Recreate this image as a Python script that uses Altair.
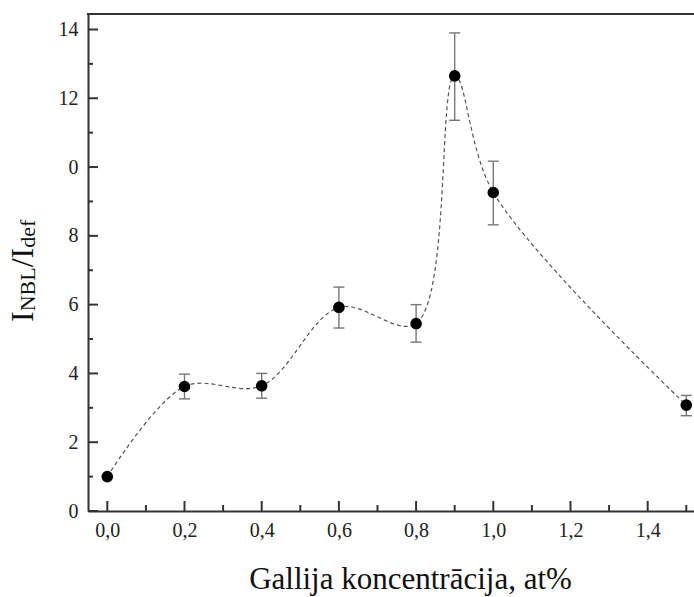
import altair as alt
import pandas as pd

# Gallium concentration (at%) and the NBL/def intensity ratio with error limits
conc = [0.0, 0.2, 0.4, 0.6, 0.8, 0.9, 1.0, 1.5]
ratio = [1.0, 3.62, 3.64, 5.92, 5.45, 12.65, 9.26, 3.08]
err_lo = [1.0, 3.26, 3.28, 5.32, 4.91, 11.36, 8.32, 2.77]
err_hi = [1.0, 3.98, 4.00, 6.51, 6.00, 13.90, 10.17, 3.36]

x_major = [0.0, 0.2, 0.4, 0.6, 0.8, 1.0, 1.2, 1.4]
x_minor = [0.1, 0.3, 0.5, 0.7, 0.9, 1.1, 1.3, 1.5]
y_major = [0, 2, 4, 6, 8, 10, 12, 14]
y_minor = [1, 3, 5, 7, 9, 11, 13]

x_title = "Gallija koncentrācija, at%"

df = pd.DataFrame({"c": conc, "r": ratio, "lo": err_lo, "hi": err_hi})
one = pd.DataFrame({"k": [0]})

W, H = 606, 497
FONT = "Liberation Serif"
AX = "#333333"

xs = alt.Scale(domain=[-0.05, 1.52], nice=False, zero=False)
ys = alt.Scale(domain=[0, 14.45], nice=False, zero=False)

# shared axes (ticks are drawn separately, pointing inward)
x_axis = alt.Axis(
    orient="bottom", values=x_major, ticks=False, grid=False,
    domainColor=AX, domainWidth=2,
    labelExpr="replace(format(datum.value, '.1f'), '.', ',')",
    labelFont=FONT, labelFontSize=20, labelColor="#222222", labelPadding=9,
    title=x_title, titleFont=FONT, titleFontSize=31,
    titleFontWeight="normal", titleColor="#111111",
    titleX=322, titleY=77, titleBaseline="alphabetic", titleAlign="center")
y_axis = alt.Axis(
    orient="left", values=y_major, ticks=False, grid=False,
    domainColor=AX, domainWidth=2,
    labelExpr="datum.value == 10 ? '0' : datum.label",
    labelFont=FONT, labelFontSize=20, labelColor="#222222", labelPadding=10,
    title=None)

base = alt.Chart(df)

curve = base.mark_line(interpolate="catmull-rom", strokeDash=[4, 3],
                       color="#555555", strokeWidth=1.2).encode(
    x=alt.X("c:Q", scale=xs, axis=x_axis),
    y=alt.Y("r:Q", scale=ys, axis=y_axis),
)

bars = base.mark_rule(color="#777777", strokeWidth=1.4).encode(
    x=alt.X("c:Q", scale=xs, axis=x_axis),
    y=alt.Y("lo:Q", scale=ys, axis=y_axis),
    y2="hi:Q",
)

cap_lo = base.mark_tick(orient="horizontal", size=11, thickness=1.4,
                        color="#777777", opacity=1).encode(
    x=alt.X("c:Q", scale=xs, axis=x_axis),
    y=alt.Y("lo:Q", scale=ys, axis=y_axis),
)
cap_hi = base.mark_tick(orient="horizontal", size=11, thickness=1.4,
                        color="#777777", opacity=1).encode(
    x=alt.X("c:Q", scale=xs, axis=x_axis),
    y=alt.Y("hi:Q", scale=ys, axis=y_axis),
)


def x_ticks(values, length):
    # inward ticks along the bottom edge
    return alt.Chart(pd.DataFrame({"v": values})).mark_tick(
        orient="vertical", size=length, thickness=2, color=AX, opacity=1
    ).encode(x=alt.X("v:Q", scale=xs, axis=x_axis), y=alt.value(H - length / 2))


def y_ticks(values, length):
    # inward ticks along the left edge
    return alt.Chart(pd.DataFrame({"v": values})).mark_tick(
        orient="horizontal", size=length, thickness=2, color=AX, opacity=1
    ).encode(y=alt.Y("v:Q", scale=ys, axis=y_axis), x=alt.value(length / 2))


points = base.mark_circle(size=135, color="black", opacity=1).encode(
    x=alt.X("c:Q", scale=xs, axis=x_axis),
    y=alt.Y("r:Q", scale=ys, axis=y_axis),
)

top_edge = alt.Chart(one).mark_rule(color=AX, strokeWidth=2).encode(
    x=alt.value(-1), x2=alt.value(W), y=alt.value(0)
)

# rotated y title with subscripts: I_NBL / I_def
pieces = [("I", 32, 0), ("NBL", 22, 2), ("/", 32, 0), ("I", 32, 0), ("def", 22, 2)]
adv = {"I": 0.333, "N": 0.722, "B": 0.667, "L": 0.611, "/": 0.278,
       "d": 0.5, "e": 0.444, "f": 0.333}
title_layers = []
ypos = 308.0
for txt, fs, drop in pieces:
    title_layers.append(
        alt.Chart(one).mark_text(text=txt, font=FONT, fontSize=fs, angle=270,
                                 align="left", baseline="alphabetic",
                                 color="#111111").encode(
            x=alt.value(-55 + drop), y=alt.value(ypos))
    )
    ypos -= sum(adv[ch] for ch in txt) * fs

chart = alt.layer(
    curve, bars, cap_lo, cap_hi,
    x_ticks(x_major, 10), x_ticks(x_minor, 6),
    y_ticks(y_major, 10), y_ticks(y_minor, 5),
    points, top_edge, *title_layers
).properties(
    width=W, height=H,
    autosize=alt.AutoSizeParams(type="none"),
    padding={"left": 88, "top": 14, "right": 0, "bottom": 86},
    background="white",
).configure_view(stroke=None).configure(font=FONT)

chart.save("out.html", embed_options={"renderer": "svg", "actions": False})
